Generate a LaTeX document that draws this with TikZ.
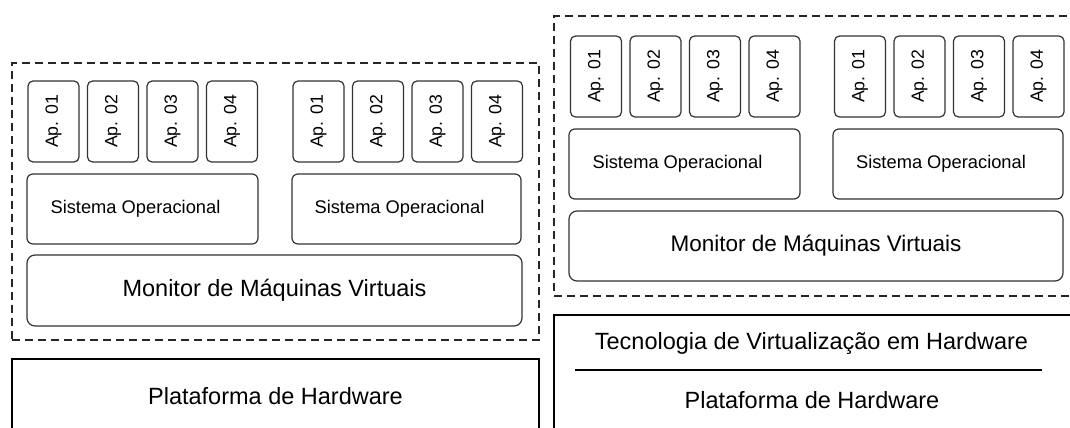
\documentclass[tikz,border=0pt]{standalone}
\usepackage{fontspec}
\setmainfont{Liberation Sans}
\usepackage{graphicx}

\newcommand{\apl}[1]{\rotatebox{90}{Ap. #1}}
\newcommand{\sysname}{Sistema Operacional\hspace*{14pt}}

\begin{document}
\begin{tikzpicture}[x=1pt, y=-1pt, node distance=59.5pt,
    app/.style={draw=black!80, rounded corners=5pt, line width=1.2pt, inner sep=0pt,
        minimum width=51pt, minimum height=81pt, font=\fontsize{17.7}{20}\selectfont},
    sysop/.style={draw=black!80, rounded corners=6pt, line width=1.2pt, inner sep=0pt,
        minimum height=70pt, font=\fontsize{18.3}{21}\selectfont},
    vmm/.style={draw=black!80, rounded corners=8pt, line width=1.2pt, inner sep=0pt,
        minimum height=71pt, font=\fontsize{23.5}{27}\selectfont},
    frame/.style={draw=black!85, dash pattern=on 8pt off 5pt, line width=1.5pt, inner sep=0pt},
    hwbox/.style={draw=black, line width=1.5pt, inner sep=0pt},
    caption/.style={font=\fontsize{23.5}{27}\selectfont, inner sep=0pt}]

    \clip (0,0) rectangle (1070,428);

    % Frames round the virtual machines
    \node [frame, minimum width=527pt, minimum height=277pt] (vmA) at (275.5,201.5) {};
    \node [frame, minimum width=526pt, minimum height=280pt] (vmB) at (817,156)   {};

    % Apps {left stack}
    \node [app] (a1)                 at (53.5,121.5) {\apl{01}};
    \node [app] (a2) [right of=a1]                  {\apl{02}};
    \node [app] (a3) [right of=a2]                  {\apl{03}};
    \node [app] (a4) [right of=a3]                  {\apl{04}};
    \node [app] (a5)                 at (318.5,121.5) {\apl{01}};
    \node [app] (a6) [right of=a5]                  {\apl{02}};
    \node [app] (a7) [right of=a6]                  {\apl{03}};
    \node [app] (a8) [right of=a7]                  {\apl{04}};

    % Apps {right stack}
    \node [app] (b1)                 at (596,76.5)   {\apl{01}};
    \node [app] (b2) [right of=b1]                  {\apl{02}};
    \node [app] (b3) [right of=b2]                  {\apl{03}};
    \node [app] (b4) [right of=b3]                  {\apl{04}};
    \node [app] (b5)                 at (860,76.5)   {\apl{01}};
    \node [app] (b6) [right of=b5]                  {\apl{02}};
    \node [app] (b7) [right of=b6]                  {\apl{03}};
    \node [app] (b8) [right of=b7]                  {\apl{04}};

    % Guest systems and monitors
    \node [sysop, minimum width=231pt] (soA1) at (142.5,209) {\sysname};
    \node [sysop, minimum width=229pt] (soA2) at (406.5,209) {\sysname};
    \node [sysop, minimum width=231pt] (soB1) at (684.5,164) {\sysname};
    \node [sysop, minimum width=230pt] (soB2) at (948,164)   {\sysname};
    \node [vmm, minimum width=495pt]   (vmmA) at (274.5,290.5) {Monitor de Máquinas Virtuais};
    \node [vmm, minimum width=494pt, minimum height=70pt, font=\fontsize{22.5}{26}\selectfont]
                                       (vmmB) at (816,246)   {Monitor de Máquinas Virtuais};

    % Hardware
    \node [hwbox, minimum width=527pt, minimum height=74pt] (hwA) at (275.5,396) {};
    \node [caption] (platA) at (hwA.center) {Plataforma de Hardware};
    \node [hwbox, minimum width=526pt, minimum height=130pt] (hwB) at (817,380) {};
    \node [caption] (tec)   at (811.5,343) {Tecnologia de Virtualização em Hardware};
    \node [caption] (platB) at (812,400)   {Plataforma de Hardware};

    % Paths
    \coordinate (sepL) at (575,370);
    \coordinate (sepR) at (1042,370);
    \draw [line width=1.2pt] (sepL) -- (sepR);

\end{tikzpicture}
\end{document}
